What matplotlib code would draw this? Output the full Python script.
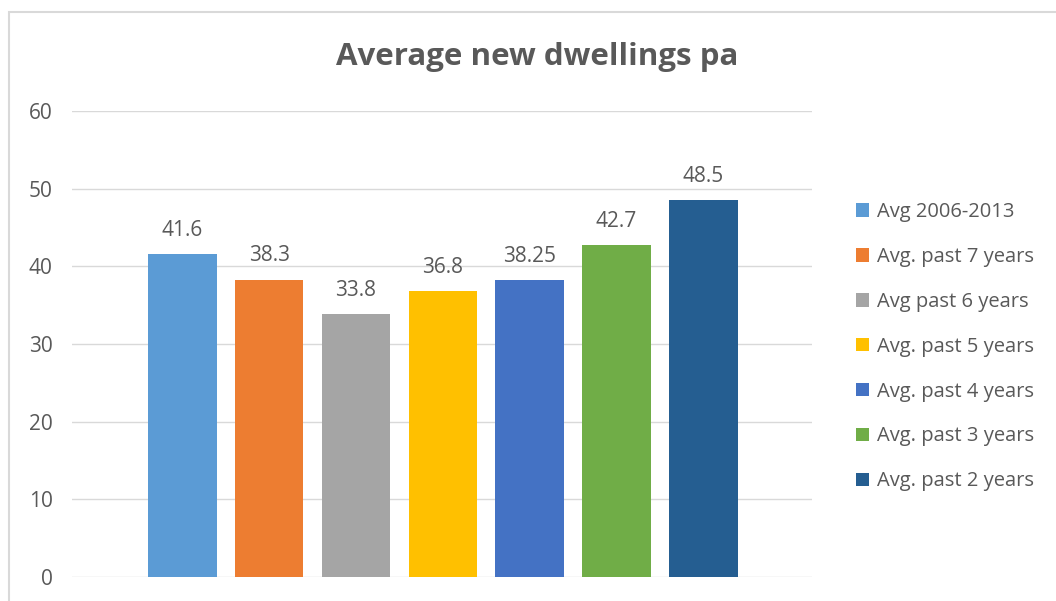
import matplotlib
matplotlib.use("Agg")
import matplotlib.pyplot as plt
from matplotlib.patches import Rectangle

series_names = [
    "Avg 2006-2013",
    "Avg. past 7 years",
    "Avg past 6 years",
    "Avg. past 5 years",
    "Avg. past 4 years",
    "Avg. past 3 years",
    "Avg. past 2 years",
]
values = [41.6, 38.3, 33.8, 36.8, 38.25, 42.7, 48.5]
value_labels = ["41.6", "38.3", "33.8", "36.8", "38.25", "42.7", "48.5"]
colors = ["#5B9BD5", "#ED7D31", "#A5A5A5", "#FFC000", "#4472C4", "#70AD47", "#255E91"]
y_ticks = [0, 10, 20, 30, 40, 50, 60]

W, H = 1056, 601
plt.rcParams["font.family"] = ["Open Sans", "DejaVu Sans"]
text_color = "#595959"

fig = plt.figure(figsize=(W / 100, H / 100), dpi=100)
fig.patch.set_facecolor("white")

# chart frame
fig.patches.append(Rectangle((9 / W, -0.1), 1.2, (H - 12) / H + 0.1,
                             transform=fig.transFigure, fill=False,
                             edgecolor="#D9D9D9", linewidth=1.5))

ax = fig.add_axes([72 / W, (H - 577) / H, 740 / W, (577 - 111) / H])
bars = []
for i, (v, c, n) in enumerate(zip(values, colors, series_names)):
    b = ax.bar(i, v, width=0.79, color=c, label=n, zorder=3)
    bars.append(b)
    ax.annotate(value_labels[i], (i, v), xytext=(0, 13), textcoords="offset points",
                ha="center", va="baseline", fontsize=15, color=text_color)

ax.set_xlim(-1.27, 6 + 1.25)
ax.set_ylim(0, 60)
ax.set_yticks(y_ticks)
ax.set_yticklabels([str(t) for t in y_ticks], fontsize=15, color=text_color)
ax.set_xticks([])
ax.grid(axis="y", color="#D9D9D9", linewidth=1, zorder=0)
for s in ax.spines.values():
    s.set_visible(False)
ax.tick_params(axis="y", length=0, pad=14)

fig.text(537 / W, (H - 57) / H, "Average new dwellings pa", ha="center", va="center",
         fontsize=22.5, fontweight="bold", color=text_color)

leg = fig.legend(handles=[b[0] for b in bars], labels=series_names,
                 loc="upper left", bbox_to_anchor=(838 / W, (H - 184) / H),
                 frameon=False, fontsize=14.5, labelcolor=text_color,
                 handlelength=0.65, handleheight=0.65, handletextpad=0.4,
                 labelspacing=1.235)

fig.savefig("out.png", dpi=100, facecolor="white")
